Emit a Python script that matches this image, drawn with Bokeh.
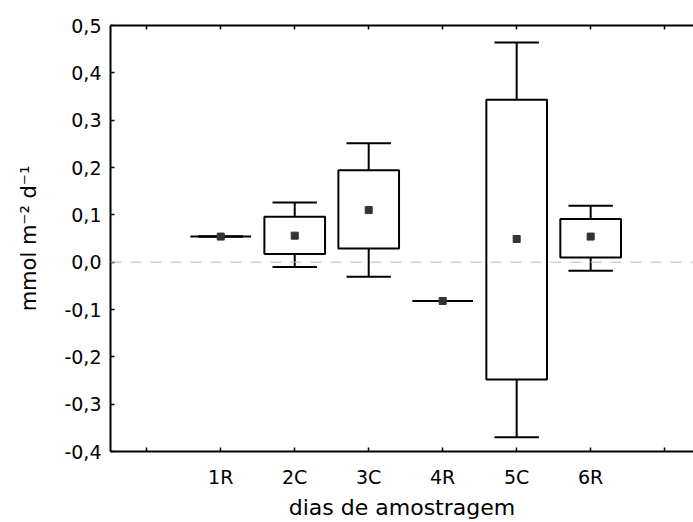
from bokeh.plotting import figure
from bokeh.models import Range1d, FixedTicker, LinearAxis, Span, ColumnDataSource
from bokeh.embed import file_html
from bokeh.resources import INLINE

# ---- data ----
categories = ["1R", "2C", "3C", "4R", "5C", "6R"]
means      = [0.054, 0.056, 0.110, -0.082, 0.049, 0.054]
box_low    = [0.054, 0.017, 0.029, -0.082, -0.248, 0.010]
box_high   = [0.054, 0.096, 0.194, -0.082, 0.343, 0.091]
whisk_low  = [0.054, -0.010, -0.031, -0.082, -0.370, -0.018]
whisk_high = [0.054, 0.126, 0.251, -0.082, 0.464, 0.119]
y_ticks = [-0.4, -0.3, -0.2, -0.1, 0.0, 0.1, 0.2, 0.3, 0.4, 0.5]
y_tick_labels = ["-0,4", "-0,3", "-0,2", "-0,1", "0,0", "0,1", "0,2", "0,3", "0,4", "0,5"]
x_label = "dias de amostragem"
y_label = "mmol m\u207b\u00b2 d\u207b\u00b9"

FONT = "DejaVu Sans"
xs = list(range(1, len(categories) + 1))
edge_ticks = [0, len(categories) + 1]
all_ticks = list(range(0, len(categories) + 2))
CAP = 0.6

src = ColumnDataSource(dict(x=xs, cat=categories, mean=means, blo=box_low, bhi=box_high,
                            wlo=whisk_low, whi=whisk_high,
                            cl=[x - CAP / 2 for x in xs], cr=[x + CAP / 2 for x in xs]))

p = figure(width=693, height=522, output_backend="svg", toolbar_location=None,
           x_range=Range1d(-0.49, 7.39), y_range=Range1d(-0.4, 0.5),
           min_border_left=110, min_border_right=0, min_border_top=25, min_border_bottom=10)
p.outline_line_color = None
p.grid.visible = False
p.background_fill_color = "white"
p.border_fill_color = "white"

# zero reference line
p.add_layout(Span(location=0, dimension="width", line_color="#b8b8b8", line_width=1,
                  line_dash="11 9"))

# whiskers
p.segment(x0="x", y0="bhi", x1="x", y1="whi", source=src, line_color="black", line_width=2)
p.segment(x0="x", y0="blo", x1="x", y1="wlo", source=src, line_color="black", line_width=2)
# caps
p.segment(x0="cl", y0="whi", x1="cr", y1="whi", source=src, line_color="black", line_width=2)
p.segment(x0="cl", y0="wlo", x1="cr", y1="wlo", source=src, line_color="black", line_width=2)
# boxes
p.vbar(x="x", bottom="blo", top="bhi", width=0.82, source=src, fill_color="white",
       line_color="black", line_width=2)
# means
p.scatter(x="x", y="mean", source=src, marker="square", size=7, fill_color="#333333",
          line_color="#333333")

# axes
xa = p.xaxis[0]
xa.ticker = FixedTicker(ticks=xs, minor_ticks=edge_ticks)
xa.major_label_overrides = {x: c for x, c in zip(xs, categories)}
ya = p.yaxis[0]
ya.ticker = FixedTicker(ticks=y_ticks)
ya.major_label_overrides = {t: l for t, l in zip(y_ticks, y_tick_labels)}

for ax in (xa, ya):
    ax.axis_line_width = 2
    ax.axis_line_color = "black"
    ax.major_tick_in = 4
    ax.major_tick_out = 0
    ax.major_tick_line_width = 1.5
    ax.minor_tick_in = 4
    ax.minor_tick_out = 0
    ax.minor_tick_line_width = 1.5
    ax.minor_tick_line_color = "black"
    ax.major_label_text_font = FONT
    ax.major_label_text_font_size = "19px"
    ax.major_label_text_color = "black"
    ax.axis_label_text_font = FONT
    ax.axis_label_text_font_style = "normal"
    ax.axis_label_text_color = "black"
ya.minor_tick_line_color = None

xa.axis_label = x_label
xa.axis_label_text_font_size = "22px"
xa.major_label_standoff = 14
xa.axis_label_standoff = 4

ya.axis_label = y_label
ya.axis_label_text_font_size = "21px"
ya.major_label_standoff = 9
ya.axis_label_standoff = 20

top = LinearAxis(ticker=FixedTicker(ticks=[], minor_ticks=all_ticks),
                 axis_line_width=2, axis_line_color="black",
                 minor_tick_in=4, minor_tick_out=0, minor_tick_line_width=1.5,
                 minor_tick_line_color="black", major_tick_line_color=None)
p.add_layout(top, "above")

open("out.html", "w").write(file_html(p, INLINE))
